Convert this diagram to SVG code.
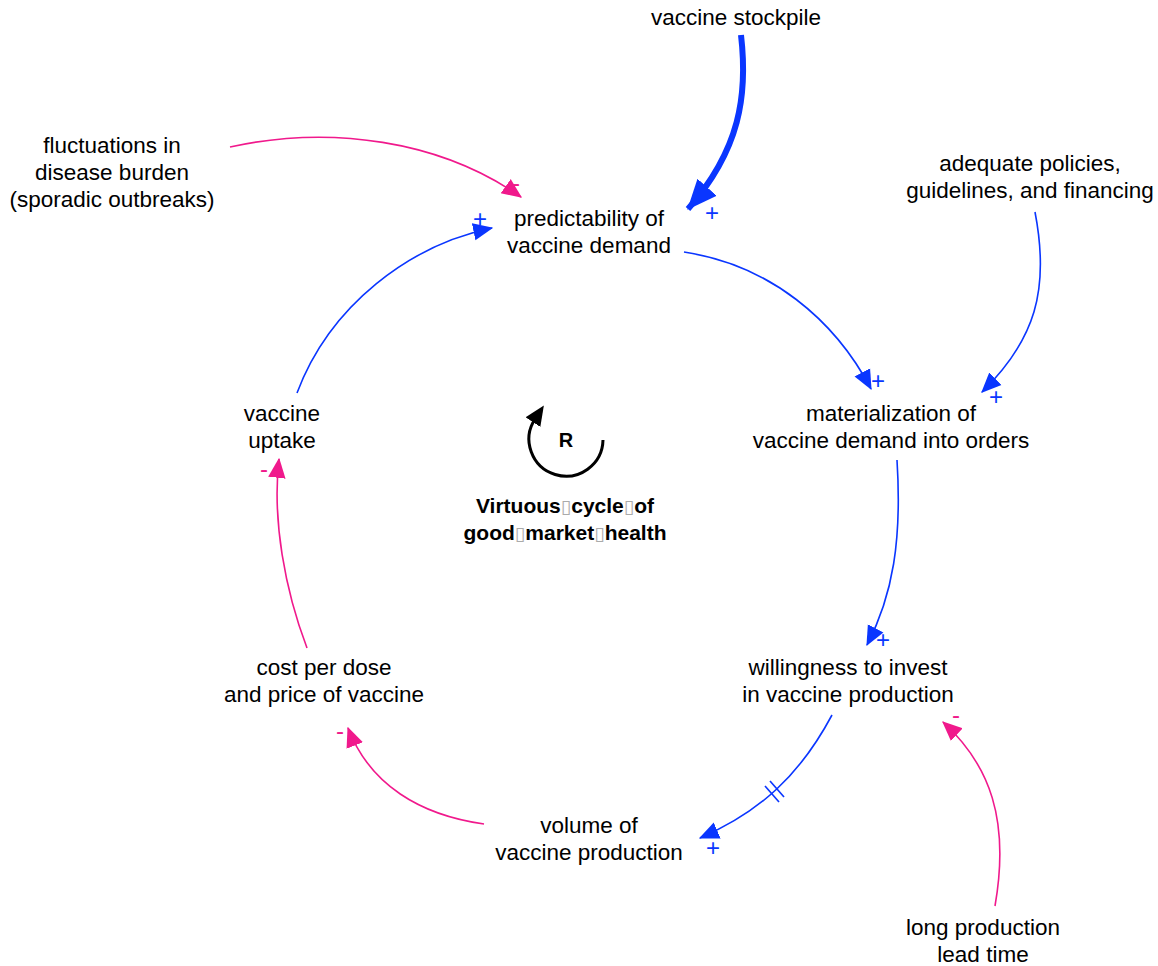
<svg xmlns="http://www.w3.org/2000/svg" width="1158" height="966" viewBox="0 0 1158 966">
<style>
.t{font-family:"Liberation Sans",Arial,sans-serif;font-size:22.5px;fill:#000;text-anchor:middle}
.b{font-weight:bold;font-size:21px}
.bl{fill:none;stroke:#0a36ff;stroke-width:1.6}
.pk{fill:none;stroke:#f0198c;stroke-width:1.6}
.sp{font-family:"Liberation Sans",Arial,sans-serif;font-size:24px;text-anchor:middle}
.sb{fill:#0a36ff}
.sr{fill:#f0198c}
.box{font-family:"DejaVu Sans",sans-serif;font-weight:normal;fill:#aaa;font-size:19px}
</style>
<defs>
<marker id="ab" markerUnits="userSpaceOnUse" markerWidth="20" markerHeight="20" viewBox="0 0 16 14" refX="15" refY="7" orient="auto"><path d="M0,0 L16,7 L0,14 Z" fill="#0a36ff"/></marker>
<marker id="ap" markerUnits="userSpaceOnUse" markerWidth="20" markerHeight="20" viewBox="0 0 16 14" refX="15" refY="7" orient="auto"><path d="M0,0 L16,7 L0,14 Z" fill="#f0198c"/></marker>
<marker id="abig" markerUnits="userSpaceOnUse" markerWidth="30" markerHeight="30" viewBox="0 0 28 24" refX="27" refY="12" orient="auto"><path d="M0,0 L28,12 L0,24 Z" fill="#0a36ff"/></marker>
<marker id="ak" markerUnits="userSpaceOnUse" markerWidth="20" markerHeight="20" viewBox="0 0 16 14" refX="3" refY="7" orient="auto"><path d="M0,0 L16,7 L0,14 Z" fill="#000"/></marker>
</defs>

<g id="connectors">
  <path class="bl" d="M741,35 C748,95 740,150 688,209" style="stroke-width:6" marker-end="url(#abig)"/>
  <text class="sp sb" x="712" y="221">+</text>

  <path class="pk" d="M230,147 C330,125 440,140 521,197" marker-end="url(#ap)"/>
  <text class="sp sr" x="516" y="191">-</text>

  <path class="bl" d="M297,393 C330,305 410,245 492,228" marker-end="url(#ab)"/>
  <text class="sp sb" x="480" y="227">+</text>

  <path class="bl" d="M684,252 C770,265 835,320 871,389" marker-end="url(#ab)"/>
  <text class="sp sb" x="878" y="389">+</text>

  <path class="bl" d="M1035,212 C1050,290 1035,340 982,392" marker-end="url(#ab)"/>
  <text class="sp sb" x="996" y="405">+</text>

  <path class="bl" d="M897,460 C902,540 893,595 867,645" marker-end="url(#ab)"/>
  <text class="sp sb" x="883" y="648">+</text>

  <path class="bl" d="M832,715 C800,775 760,812 700,838" marker-end="url(#ab)"/>
  <line class="bl" x1="765" y1="786" x2="779" y2="802"/>
  <line class="bl" x1="770" y1="781" x2="784" y2="797"/>
  <text class="sp sb" x="713" y="856">+</text>

  <path class="pk" d="M995,906 C1010,820 990,765 943,722" marker-end="url(#ap)"/>
  <text class="sp sr" x="956" y="723">-</text>

  <path class="pk" d="M484,824 C420,815 370,785 348,728" marker-end="url(#ap)"/>
  <text class="sp sr" x="340" y="739">-</text>

  <path class="pk" d="M307,648 C285,590 272,520 279,459" marker-end="url(#ap)"/>
  <text class="sp sr" x="264" y="477">-</text>
</g>

<g id="loop-R">
  <path d="M603,440 A37,37 0 1 1 535,419" fill="none" stroke="#000" stroke-width="3" marker-end="url(#ak)"/>
  <text class="t b" x="566" y="447" style="font-size:20px">R</text>
  <text class="t b" x="565" y="513">Virtuous<tspan class="box">▯</tspan>cycle<tspan class="box">▯</tspan>of</text>
  <text class="t b" x="565" y="540">good<tspan class="box">▯</tspan>market<tspan class="box">▯</tspan>health</text>
</g>

<g id="n-stockpile"><text class="t" x="736" y="25">vaccine stockpile</text></g>
<g id="n-fluctuations"><text class="t" x="112" y="153">fluctuations in</text><text class="t" x="112" y="180">disease burden</text><text class="t" x="112" y="207">(sporadic outbreaks)</text></g>
<g id="n-predictability"><text class="t" x="589" y="226">predictability of</text><text class="t" x="589" y="253">vaccine demand</text></g>
<g id="n-adequate"><text class="t" x="1030" y="171">adequate policies,</text><text class="t" x="1030" y="198">guidelines, and financing</text></g>
<g id="n-materialization"><text class="t" x="891" y="421">materialization of</text><text class="t" x="891" y="448">vaccine demand into orders</text></g>
<g id="n-uptake"><text class="t" x="282" y="421">vaccine</text><text class="t" x="282" y="448">uptake</text></g>
<g id="n-willingness"><text class="t" x="848" y="675">willingness to invest</text><text class="t" x="848" y="702">in vaccine production</text></g>
<g id="n-cost"><text class="t" x="324" y="675">cost per dose</text><text class="t" x="324" y="702">and price of vaccine</text></g>
<g id="n-volume"><text class="t" x="589" y="833">volume of</text><text class="t" x="589" y="860">vaccine production</text></g>
<g id="n-leadtime"><text class="t" x="983" y="935">long production</text><text class="t" x="983" y="962">lead time</text></g>
</svg>
